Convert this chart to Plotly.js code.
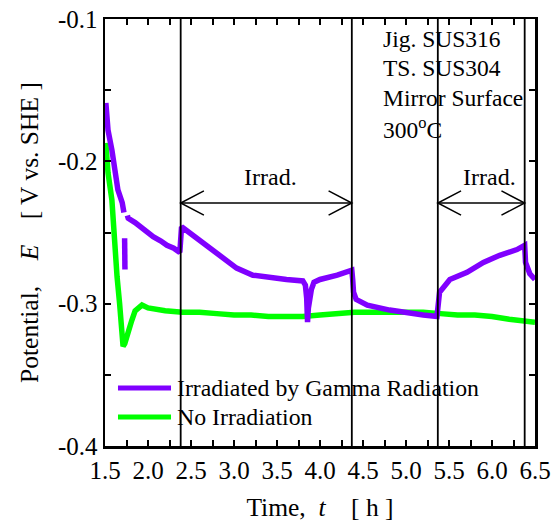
<!DOCTYPE html>
<html>
<head>
<meta charset="utf-8">
<script src="https://cdn.plot.ly/plotly-3.0.1.min.js"></script>
<style>html,body{margin:0;padding:0;background:#fff;}#chart{width:556px;height:522px;}</style>
</head>
<body>
<div id="chart"></div>
<script>
// ---- data ----
const gammaTime = [1.51,1.535,1.58,1.62,1.65,1.70,1.72,null,1.728,1.732,null,1.76,1.77,1.85,1.91,2.00,2.06,2.15,2.22,2.30,2.37,
  2.39,2.50,2.64,2.75,2.84,2.95,3.03,3.22,3.42,3.61,3.80,3.83,3.845,3.85,3.855,3.865,3.88,3.90,3.93,4.00,4.20,4.35,
  4.37,4.38,4.39,4.42,4.55,4.81,5.01,5.20,5.36,
  5.39,5.51,5.71,5.90,6.09,6.29,6.38,6.39,6.44,6.50];
const gammaPotential = [-0.159,-0.178,-0.192,-0.211,-0.220,-0.229,-0.236,null,-0.254,-0.276,null,-0.238,-0.240,-0.243,-0.246,-0.250,-0.253,-0.256,-0.259,-0.261,-0.264,
  -0.246,-0.251,-0.257,-0.262,-0.267,-0.272,-0.275,-0.280,-0.282,-0.283,-0.284,-0.287,-0.296,-0.306,-0.313,-0.303,-0.296,-0.290,-0.285,-0.283,-0.280,-0.276,
  -0.2765,-0.283,-0.292,-0.297,-0.301,-0.3045,-0.3066,-0.308,-0.309,
  -0.292,-0.283,-0.278,-0.271,-0.266,-0.262,-0.259,-0.271,-0.279,-0.283];

const noIrrTime = [1.51,1.535,1.58,1.60,1.61,1.64,1.67,1.70,1.71,1.73,1.75,1.81,1.85,1.93,2.00,2.20,2.40,2.60,2.80,3.00,3.20,3.40,3.60,3.80,
  4.00,4.20,4.40,4.60,4.80,5.00,5.20,5.40,5.60,5.80,6.00,6.20,6.40,6.50];
const noIrrPotential = [-0.187,-0.208,-0.227,-0.246,-0.266,-0.281,-0.300,-0.321,-0.330,-0.328,-0.323,-0.312,-0.305,-0.301,-0.303,-0.305,-0.306,-0.306,-0.307,-0.308,-0.308,-0.309,-0.309,-0.309,
  -0.308,-0.307,-0.306,-0.306,-0.306,-0.306,-0.306,-0.307,-0.308,-0.308,-0.309,-0.311,-0.312,-0.313];

const seriesNames = ['Irradiated by Gamma Radiation', 'No Irradiation'];
const seriesColors = ['#8000ff', '#00ff00'];

const irradStart = [2.38, 5.37];
const irradEnd = [4.37, 6.38];
const irradLabel = 'Irrad.';

const xTickVals = [1.5,2.0,2.5,3.0,3.5,4.0,4.5,5.0,5.5,6.0,6.5];
const xTickText = ['1.5','2.0','2.5','3.0','3.5','4.0','4.5','5.0','5.5','6.0','6.5'];
const yTickVals = [-0.4,-0.3,-0.2,-0.1];
const yTickText = ['-0.4','-0.3','-0.2','-0.1'];

const infoLines = ['Jig. SUS316', 'TS. SUS304', 'Mirror Surface', '300<sup>o</sup>C'];

// ---- chart ----
const FONT = 'Liberation Serif, Times New Roman, serif';
const traces = [
  {x: gammaTime, y: gammaPotential, name: seriesNames[0], mode: 'lines',
   line: {color: seriesColors[0], width: 5.5}, showlegend: false, connectgaps: false},
  {x: noIrrTime, y: noIrrPotential, name: seriesNames[1], mode: 'lines',
   line: {color: seriesColors[1], width: 5.5}, showlegend: false}
];
// draw the no-irradiation series below the gamma series
traces.reverse();

const arrowY = -0.2293, headDx = 0.27, headDy = 0.0085, labelY = -0.211;
const shapes = [];
const annotations = [];
const allLines = irradStart.concat(irradEnd);
allLines.forEach(function (xv) {
  shapes.push({type: 'line', xref: 'x', yref: 'paper', x0: xv, x1: xv, y0: 0, y1: 1,
               line: {color: 'black', width: 1.8}});
});
irradStart.forEach(function (s, i) {
  const e = irradEnd[i];
  shapes.push({type: 'line', xref: 'x', yref: 'y', x0: s, x1: e, y0: arrowY, y1: arrowY, line: {color: 'black', width: 1.5}});
  shapes.push({type: 'path', xref: 'x', yref: 'y',
    path: 'M' + (s + headDx) + ',' + (arrowY + headDy) + ' L' + s + ',' + arrowY + ' L' + (s + headDx) + ',' + (arrowY - headDy),
    line: {color: 'black', width: 1.5}});
  shapes.push({type: 'path', xref: 'x', yref: 'y',
    path: 'M' + (e - headDx) + ',' + (arrowY + headDy) + ' L' + e + ',' + arrowY + ' L' + (e - headDx) + ',' + (arrowY - headDy),
    line: {color: 'black', width: 1.5}});
  annotations.push({xref: 'x', yref: 'y', x: (s + e) / 2 + 0.05 * (i + 1), y: labelY, text: irradLabel, showarrow: false,
    font: {family: FONT, size: 24, color: 'black'}, xanchor: 'center', yanchor: 'middle'});
});

// info text block
const infoY = [0.953, 0.885, 0.815, 0.745];
infoLines.forEach(function (t, i) {
  annotations.push({xref: 'paper', yref: 'paper', x: 0.643, y: infoY[i], text: t, showarrow: false,
    font: {family: FONT, size: 23.5, color: 'black'}, xanchor: 'left', yanchor: 'middle'});
});

// manual legend
const legY = [0.1358, 0.0679];
seriesNames.forEach(function (n, i) {
  shapes.push({type: 'line', xref: 'paper', yref: 'paper', x0: 0.0302, x1: 0.1535, y0: legY[i], y1: legY[i],
    line: {color: seriesColors[i], width: 5}});
  annotations.push({xref: 'paper', yref: 'paper', x: 0.162, y: legY[i], text: n, showarrow: false,
    font: {family: FONT, size: 23.8, color: 'black'}, xanchor: 'left', yanchor: 'middle'});
});

const axisCommon = {
  showline: true, linecolor: 'black', linewidth: 2.5, mirror: 'ticks',
  ticks: 'inside', ticklen: 6, tickwidth: 2, tickcolor: 'black',
  showgrid: false, zeroline: false,
  tickfont: {family: FONT, size: 25, color: 'black'}
};

const layout = {
  width: 556, height: 522,
  margin: {l: 105, r: 21, t: 19, b: 76},
  paper_bgcolor: 'white', plot_bgcolor: 'white',
  xaxis: Object.assign({}, axisCommon, {
    range: [1.5, 6.5], tickmode: 'array', tickvals: xTickVals, ticktext: xTickText,
    minor: {dtick: 0.25, tick0: 1.5, ticks: 'inside', ticklen: 6, tickwidth: 2, tickcolor: 'black'},
    title: {text: 'Time,\u00a0 <i>t</i>\u00a0\u00a0\u00a0 [ h ]', font: {family: FONT, size: 25.5, color: 'black'}, standoff: 17}
  }),
  yaxis: Object.assign({}, axisCommon, {
    range: [-0.4, -0.1], tickmode: 'array', tickvals: yTickVals, ticktext: yTickText,
    minor: {dtick: 0.05, tick0: -0.4, ticks: 'inside', ticklen: 6, tickwidth: 2, tickcolor: 'black'},
    title: {text: 'Potential,\u00a0\u00a0\u00a0 <i>E</i>\u00a0\u00a0\u00a0 [ V vs. SHE ]', font: {family: FONT, size: 25.5, color: 'black'}, standoff: 12}
  }),
  shapes: shapes,
  annotations: annotations,
  showlegend: false
};

Plotly.newPlot('chart', traces, layout, {staticPlot: true, displayModeBar: false});
</script>
</body>
</html>
